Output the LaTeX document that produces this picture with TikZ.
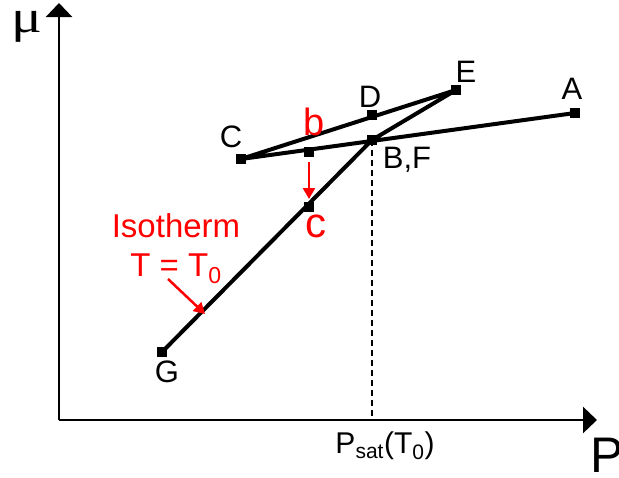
\documentclass[tikz,border=0pt]{standalone}
\usepackage{fontspec}
\setmainfont{Liberation Sans}
\newfontfamily\muserif{Liberation Serif}
\usetikzlibrary{arrows.meta}
\tikzset{
  mk/.style={fill=black,minimum size=10pt,inner sep=0pt,outer sep=0pt},
  curve/.style={line width=4pt,line join=round},
  axis/.style={line width=2.7pt,-{Triangle[length=14pt,width=26pt]}},
  lbl/.style={inner sep=0pt,font=\fontsize{31}{32}\selectfont},
  rlbl/.style={inner sep=0pt,text=red},
  rarrow/.style={red,line width=2.5pt,-{Triangle[length=11pt,width=12pt]}}
}
\begin{document}
\begin{tikzpicture}[x=1pt,y=-1pt]
\useasboundingbox (0,0) rectangle (619,477);
% axes
\coordinate (O) at (59,420);
\coordinate (Ytop) at (59,3);
\coordinate (Xend) at (597,420);
\draw[axis] (O) -- (Ytop);
\draw[axis] (O) -- (Xend);
% points
\node[mk] (A) at (575,113) {};
\node[mk] (B) at (372,140) {};
\node[mk] (C) at (241,159) {};
\node[mk] (D) at (372,115) {};
\node[mk] (E) at (456,90) {};
\node[mk] (b) at (309,152) {};
\node[mk] (c) at (309,207) {};
\node[mk] (G) at (162,352) {};
\coordinate (Bx) at (372,420);
% curves
\draw[curve] (A.center) -- (C.center) -- (E.center) -- (B.center) -- (G.center);
\draw[line width=2pt,dash pattern=on 6pt off 4pt] (B.center) -- (Bx);
% red arrows
\coordinate (bs) at (309,162);
\coordinate (ce) at (309,199);
\draw[rarrow] (bs) -- (ce);
\coordinate (is) at (168,279);
\coordinate (ie) at (205,314);
\draw[rarrow] (is) -- (ie);
% labels
\node[lbl] (lA) at (572,89) {A};
\node[lbl] (lBF) at (407,160) {B,F};
\node[lbl] (lC) at (231,137) {C};
\node[lbl] (lD) at (370,97) {D};
\node[lbl] (lE) at (466,72) {E};
\node[lbl] (lG) at (167,372) {G};
\node[rlbl,font=\fontsize{38}{40}\selectfont] (lb) at (314,122) {b};
\node[rlbl,font=\fontsize{42}{44}\selectfont] (lc) at (316,226) {c};
\node[rlbl,font=\fontsize{33}{34}\selectfont,anchor=base] (iso) at (176,237) {Isotherm};
\node[rlbl,font=\fontsize{33}{34}\selectfont,anchor=base] (teq) at (176,276) {T = T\textsubscript{0}};
\node[inner sep=0pt,font=\fontsize{46}{48}\muserif] (mu) at (27,27) {\scalebox{1.25}[1]{μ}};
\node[inner sep=0pt,font=\fontsize{50}{52}\selectfont] (P) at (607,455) {P};
\node[inner sep=0pt,font=\fontsize{30}{31}\selectfont,anchor=base] (psat) at (385,453) {P\textsubscript{sat}(T\textsubscript{0})};
\end{tikzpicture}
\end{document}
